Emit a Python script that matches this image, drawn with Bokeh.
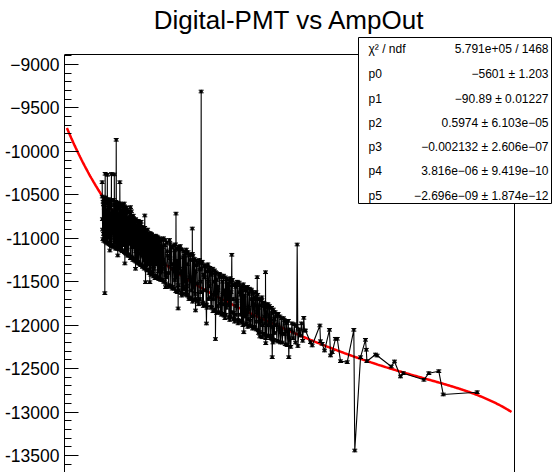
import numpy as np
from bokeh.plotting import figure
from bokeh.models import Range1d, Label, BoxAnnotation, FixedTicker
from bokeh.embed import file_html
from bokeh.resources import INLINE

# ---------------- data ----------------
amp_dense = [
    101.0, 101.5, 102.0, 102.5, 103.0, 103.5, 104.0, 104.5, 105.0, 105.5,
    106.0, 106.5, 107.0, 107.5, 108.0, 108.5, 109.0, 109.5, 110.0, 110.5,
    111.0, 111.5, 112.0, 112.5, 113.0, 113.5, 114.0, 114.5, 115.0, 115.5,
    116.0, 116.5, 117.0, 117.5, 118.0, 118.5, 119.0, 119.5, 120.0, 120.5,
    121.0, 121.5, 122.0, 122.5, 123.0, 123.5, 124.0, 124.5, 125.0, 125.5,
    126.0, 126.5, 127.0, 127.5, 128.0, 128.5, 129.0, 129.5, 130.0, 130.5,
    131.0, 131.5, 132.0, 132.5, 133.0, 133.5, 134.0, 134.5, 135.0, 135.5,
    136.0, 136.5, 137.0, 137.5, 138.0, 138.5, 139.0, 139.5, 140.0, 140.5,
    141.0, 141.5, 142.0, 142.5, 143.0, 143.5, 144.0, 144.5, 145.0, 145.5,
    146.0, 146.5, 147.0, 147.5, 148.0, 148.5, 149.0, 149.5, 150.0, 150.5,
    151, 152, 153, 154, 155, 156, 157, 158, 159, 160,
    161, 162, 163, 164, 165, 166, 167, 168, 169, 170,
    171, 172, 173, 174, 175, 176, 177, 178, 179, 180,
    181, 182, 183, 184, 185, 186, 187, 188, 189, 190,
    191, 192, 193, 194, 195, 196, 197, 198, 199, 200,
    201, 202, 203, 204, 205, 206, 207, 208, 209, 210,
    211, 212, 213, 214, 215, 216, 217, 218, 219, 220,
    221, 222, 223, 224, 225, 226, 227, 228, 229, 230,
    231, 232, 233, 234, 235, 236, 237, 238, 239, 240,
    241, 242, 243, 244, 245, 246, 247, 248, 249, 250,
    251, 252, 253, 254, 255, 256, 257, 258, 259, 260,
    261, 262, 263, 264, 265, 266, 267, 268,
]
pmt_dense = [
    -10520, -11010, -10610, -10950, -10540, -11040, -10700, -10890, -10560, -11060,
    -10650, -10980, -10580, -10830, -11080, -10600, -10920, -10700, -11090, -10560,
    -10860, -11000, -10620, -11110, -10760, -10590, -10940, -11120, -10650, -10880,
    -10600, -11050, -10720, -11140, -10610, -10960, -10700, -11160, -10640, -10900,
    -11180, -10680, -11000, -10760, -11200, -10690, -10950, -11230, -10740, -11100,
    -10800, -11250, -10770, -11020, -11240, -10790, -11150, -10860, -10980, -11290,
    -10800, -11080, -10850, -11300, -10840, -11120, -10900, -11330, -10880, -11060,
    -11350, -10920, -11200, -10930, -11360, -10990, -11250, -10950, -11400, -11000,
    -11180, -11420, -10960, -11300, -11010, -11440, -10990, -11220, -11460, -11000,
    -11300, -10980, -11450, -11050, -11270, -11000, -11470, -11090, -11380, -11020,
    -11480, -11000, -11300, -11520, -11050, -11400, -11020, -11550, -11100, -11350,
    -11580, -11070, -11450, -11120, -11600, -11090, -11380, -11640, -11150, -11500,
    -11130, -11660, -11200, -11450, -11690, -11180, -11560, -11240, -11700, -11300,
    -11720, -11250, -11500, -11290, -11740, -11320, -11600, -11770, -11300, -11550,
    -11380, -11800, -11350, -11650, -11820, -11400, -11560, -11850, -11420, -11700,
    -11870, -11430, -11600, -11880, -11470, -11760, -11500, -11900, -11480, -11700,
    -11920, -11520, -11780, -11940, -11510, -11650, -11960, -11550, -11850, -11600,
    -11980, -11560, -11800, -12000, -11590, -11900, -11640, -12030, -11620, -11850,
    -12060, -11700, -11950, -11680, -12100, -11750, -11980, -12120, -11760, -11900,
    -12150, -11800, -12020, -12170, -11850, -12000, -11880, -12190, -11900, -12080,
    -12200, -11920, -12100, -11960, -12230, -11950, -12050, -12250, -11980, -12150,
    -11990, -12200, -12010, -12240, -12050, -12120, -11980, -12180,
]
amp_dense2 = [
    101.25, 101.75, 102.25, 102.75, 103.25, 103.75, 104.25, 104.75, 105.25, 105.75,
    106.25, 106.75, 107.25, 107.75, 108.25, 108.75, 109.25, 109.75, 110.25, 110.75,
    111.25, 111.75, 112.25, 112.75, 113.25, 113.75, 114.25, 114.75, 115.25, 115.75,
    116.25, 116.75, 117.25, 117.75, 118.25, 118.75, 119.25, 119.75, 120.25, 120.75,
    121.25, 121.75, 122.25, 122.75, 123.25, 123.75, 124.25, 124.75, 125.25, 125.75,
    126.25, 126.75, 127.25, 127.75, 128.25, 128.75, 129.25, 129.75, 130.25, 130.75,
    131.25, 131.75, 132.25, 132.75, 133.25, 133.75, 134.25, 134.75, 135.25, 135.75,
    136.25, 136.75, 137.25, 137.75, 138.25, 138.75, 139.25, 139.75, 140.25, 140.75,
    141.25, 141.75, 142.25, 142.75, 143.25, 143.75, 144.25, 144.75, 145.25, 145.75,
    146.25, 146.75, 147.25, 147.75, 148.25, 148.75, 149.25, 149.75, 150.25, 150.75,
    151.5, 152.5, 153.5, 154.5, 155.5, 156.5, 157.5, 158.5, 159.5, 160.5,
    161.5, 162.5, 163.5, 164.5, 165.5, 166.5, 167.5, 168.5, 169.5, 170.5,
    171.5, 172.5, 173.5, 174.5, 175.5, 176.5, 177.5, 178.5, 179.5, 180.5,
    181.5, 182.5, 183.5, 184.5, 185.5, 186.5, 187.5, 188.5, 189.5, 190.5,
    191.5, 192.5, 193.5, 194.5, 195.5, 196.5, 197.5, 198.5, 199.5, 200.5,
    201.5, 202.5, 203.5, 204.5, 205.5, 206.5, 207.5, 208.5, 209.5, 210.5,
    211.5, 212.5, 213.5, 214.5, 215.5, 216.5, 217.5, 218.5, 219.5, 220.5,
    221.5, 222.5, 223.5, 224.5, 225.5, 226.5, 227.5, 228.5, 229.5, 230.5,
    231.5, 232.5, 233.5, 234.5, 235.5, 236.5, 237.5, 238.5, 239.5, 240.5,
    241.5, 242.5, 243.5, 244.5, 245.5, 246.5, 247.5, 248.5, 249.5, 250.5,
    251.5, 252.5, 253.5, 254.5,
]
pmt_dense2 = [
    -10900, -10580, -11030, -10650, -10980, -10530, -10820, -11050, -10600, -10940,
    -10550, -11070, -10720, -10990, -10560, -11090, -10680, -10850, -11100, -10620,
    -11050, -10700, -10580, -10980, -11120, -10640, -11000, -10600, -11130, -10750,
    -11100, -10630, -10870, -11150, -10650, -11080, -10600, -10990, -11170, -10700,
    -10650, -11150, -10800, -11190, -10700, -11060, -10760, -11210, -10690, -10980,
    -11220, -10740, -11100, -10800, -11260, -10780, -10960, -11250, -10820, -11150,
    -11270, -10830, -11000, -11300, -10810, -11200, -10870, -11320, -10900, -11250,
    -10880, -11340, -10950, -11100, -11370, -10900, -11300, -10970, -11360, -10940,
    -11390, -10950, -11150, -11410, -10980, -11350, -11030, -11430, -10970, -11300,
    -11040, -11450, -10990, -11380, -11460, -11030, -11240, -11480, -11010, -11350,
    -11100, -11500, -11020, -11450, -11200, -11540, -11060, -11300, -11560, -11080,
    -11480, -11120, -11620, -11100, -11350, -11630, -11130, -11560, -11200, -11650,
    -11550, -11160, -11680, -11250, -11600, -11200, -11710, -11380, -11260, -11720,
    -11280, -11700, -11350, -11750, -11420, -11310, -11760, -11380, -11700, -11340,
    -11790, -11400, -11700, -11370, -11830, -11480, -11780, -11410, -11860, -11450,
    -11650, -11890, -11450, -11800, -11520, -11910, -11460, -11850, -11530, -11930,
    -11540, -11880, -11500, -11950, -11620, -11570, -11970, -11530, -11900, -11990,
    -11600, -11930, -11580, -12010, -11700, -11620, -12020, -11700, -11960, -11650,
    -11800, -12080, -11720, -12000, -11780, -12110, -11850, -11760, -12130, -11800,
    -11950, -12160, -11820, -12090, -11900, -12180, -11870, -12050, -12200, -11920,
    -12100, -11940, -12220, -11980,
]
amp_dense3 = [
    101.125, 102.125, 103.125, 104.125, 105.125, 106.125, 107.125, 108.125, 109.125, 110.125,
    111.125, 112.125, 113.125, 114.125, 115.125, 116.125, 117.125, 118.125, 119.125, 120.125,
    121.125, 122.125, 123.125, 124.125, 125.125, 126.125, 127.125, 128.125, 129.125, 130.125,
    131.125, 132.125, 133.125, 134.125, 135.125, 136.125, 137.125, 138.125, 139.125, 140.125,
    141.125, 142.125, 143.125, 144.125, 145.125, 146.125, 147.125, 148.125, 149.125, 150.125,
    151.25, 152.25, 153.25, 154.25, 155.25, 156.25, 157.25, 158.25, 159.25, 160.25,
    161.25, 162.25, 163.25, 164.25, 165.25, 166.25, 167.25, 168.25, 169.25, 170.25,
    171.25, 172.25, 173.25, 174.25, 175.25, 176.25, 177.25, 178.25, 179.25, 180.25,
    181.25, 182.25, 183.25, 184.25, 185.25, 186.25, 187.25, 188.25, 189.25, 190.25,
    191.25, 192.25, 193.25, 194.25, 195.25, 196.25, 197.25, 198.25, 199.25, 200.25,
    201.25, 202.25, 203.25, 204.25, 205.25, 206.25, 207.25, 208.25, 209.25, 210.25,
    211.25, 212.25, 213.25, 214.25, 215.25, 216.25, 217.25, 218.25, 219.25, 220.25,
    221.25, 222.25, 223.25, 224.25, 225.25, 226.25, 227.25, 228.25, 229.25, 230.25,
    231.25, 232.25, 233.25, 234.25, 235.25, 236.25, 237.25, 238.25, 239.25, 240.25,
    241.25, 242.25, 243.25, 244.25,
]
pmt_dense3 = [
    -10780, -10950, -10620, -11020, -10680, -10900, -11060, -10640, -10850, -11080,
    -10700, -11120, -10660, -10940, -11100, -10720, -11140, -10680, -10880, -11160,
    -10720, -11200, -10800, -10960, -11230, -10760, -11100, -10830, -11270, -10900,
    -11180, -10850, -11310, -10960, -11200, -10880, -11340, -11000, -11250, -10950,
    -11400, -11020, -11280, -10990, -11430, -11060, -11200, -11470, -11040, -11330,
    -11250, -11500, -11080, -11420, -11150, -11560, -11230, -11100, -11580, -11300,
    -11140, -11610, -11260, -11540, -11130, -11400, -11660, -11220, -11590, -11170,
    -11620, -11300, -11700, -11190, -11480, -11730, -11250, -11640, -11310, -11520,
    -11760, -11360, -11620, -11270, -11780, -11450, -11330, -11800, -11500, -11360,
    -11680, -11420, -11840, -11500, -11390, -11860, -11600, -11440, -11750, -11880,
    -11500, -11760, -11920, -11470, -11700, -11540, -11940, -11620, -11480, -11860,
    -11960, -11560, -11720, -11980, -11540, -11880, -11600, -12000, -11660, -11570,
    -11880, -12020, -11640, -11950, -11600, -12040, -11760, -11680, -12050, -11700,
    -12090, -11770, -11960, -12140, -11740, -11900, -12150, -11800, -12000, -11780,
    -12120, -11860, -12200, -11930,
]
amp_outlier = [100.9, 103.1, 103.4, 105.2, 107.3, 108.6, 111.0, 112.6, 113.9, 115.6,
               119.8, 124.5, 128.7, 136.4, 137.0, 140.6, 153.7, 162.4, 164.2, 176.0,
               178.7, 183.4, 187.8, 195.3, 208.9, 218.9, 230.1, 232.3, 237.0, 237.2,
               242.6, 256.4, 263.4]
pmt_outlier = [-10355, -11632, -10258, -10270, -11141, -10260, -10265, -9867, -11198, -10355,
               -11290, -10642, -11351, -10738, -11506, -11506, -11563, -10716, -11808, -10888,
               -11831, -9311, -11981, -12160, -11190, -12082, -11448, -12131, -11391, -12208,
               -12369, -12369, -11072]
amp_tail = [268.9, 269.5, 270.3, 274.5, 275.9, 282.3, 282.8, 284.2, 286.2, 290.3,
            291.2, 292.6, 295.3, 296.8, 299.5, 305.1, 310.6, 311.4, 316.2, 320.3,
            321.0, 321.5, 328.7, 330.0, 341.8, 344.5, 349.5, 351.8, 369.0, 373.1,
            381.4, 385.1, 413.4]
pmt_tail = [-11916, -12062, -12062, -12196, -12234, -12004, -12185, -12215, -12292, -12054,
            -12349, -12311, -12157, -12157, -12415, -12426, -12054, -13443, -12369, -12169,
            -12283, -12415, -12338, -12350, -12476, -12418, -12591, -12553, -12629, -12553,
            -12530, -12798, -12772]
pmt_err = 15.0

fit_params = [-5601, -90.89, 0.5974, -0.002132, 3.816e-06, -2.696e-09]
fit_range = [71.5, 442.0]

stat_names = ["\u03c7\u00b2 / ndf", "p0", "p1", "p2", "p3", "p4", "p5"]
stat_values = ["5.791e+05 / 1468",
               "\u22125601 \u00b1 1.203",
               "\u221290.89 \u00b1 0.01227",
               "0.5974 \u00b1 6.103e\u221205",
               "\u22120.002132 \u00b1 2.606e\u221207",
               "3.816e\u221206 \u00b1 9.419e\u221210",
               "\u22122.696e\u221209 \u00b1 1.874e\u221212"]

y_ticks = [-13500, -13000, -12500, -12000, -11500, -11000, -10500, -10000, -9500, -9000]
y_tick_labels = ["-13500", "-13000", "-12500", "-12000", "-11500", "-11000", "-10500",
                 "-10000", "\u22129500", "\u22129000"]

# axis frame (ROOT pad frame) limits in data units
x_lo, x_hi = 69.5, 444.5
y_lo, y_hi = -13696.0, -8885.0

# ---------------- figure ----------------
FONT = "Liberation Sans"
W, H, LEFT = 558, 472, 64
px_per_x = (514 - LEFT) / (x_hi - x_lo)          # frame pixels per x unit
px_per_y = (472 - 54) / (y_hi - y_lo)            # frame pixels per y unit
view_x = Range1d(x_lo, x_lo + (W - LEFT) / px_per_x)
view_y = Range1d(y_lo, y_lo + H / px_per_y)

p = figure(width=W, height=H, output_backend="svg", toolbar_location=None,
           x_range=view_x, y_range=view_y, x_axis_location=None,
           min_border_left=LEFT, min_border_right=0,
           min_border_top=0, min_border_bottom=0)
p.background_fill_color = "white"
p.border_fill_color = "white"
p.outline_line_color = None
p.xgrid.visible = False
p.ygrid.visible = False

ax = p.yaxis[0]
ax.bounds = (y_lo, y_hi)
ax.ticker = FixedTicker(ticks=y_ticks, minor_ticks=list(range(-13600, -8850, 100)))
ax.major_label_overrides = {t: l for t, l in zip(y_ticks, y_tick_labels)}
ax.major_tick_in = 14
ax.major_tick_out = 0
ax.minor_tick_in = 7
ax.minor_tick_out = 0
ax.axis_line_color = "black"
ax.major_tick_line_color = "black"
ax.minor_tick_line_color = "black"
ax.major_label_text_font = FONT
ax.major_label_text_font_size = "17.5px"
ax.major_label_text_color = "black"
ax.major_label_standoff = 5

# frame top and right border
p.segment([x_lo, x_hi], [y_hi, y_lo], [x_hi, x_hi], [y_hi, y_hi],
          line_color="black", line_width=1)

# fit function (pol5 with the fitted parameters)
fx = np.linspace(fit_range[0], fit_range[1], 400)
fy = sum(c * fx ** i for i, c in enumerate(fit_params))
p.line(fx, fy, line_color="#ff0000", line_width=2.5)

# data graph
xs = np.array(amp_dense + amp_dense2 + amp_dense3 + amp_outlier + amp_tail, dtype=float)
ys = np.array(pmt_dense + pmt_dense2 + pmt_dense3 + pmt_outlier + pmt_tail, dtype=float)
order = np.argsort(xs, kind="stable")
xs, ys = xs[order], ys[order]

p.line(xs, ys, line_color="black", line_width=1.1)
p.segment(xs, ys - pmt_err, xs, ys + pmt_err, line_color="black", line_width=1)
p.scatter(xs, ys - pmt_err, marker="dash", size=5, line_color="black", line_width=1)
p.scatter(xs, ys + pmt_err, marker="dash", size=5, line_color="black", line_width=1)
p.scatter(xs, ys, marker="circle", size=2.5, fill_color="black", line_color="black")

# title
p.add_layout(Label(x=289 - LEFT, y=H - 19, x_units="screen", y_units="screen",
                   text="Digital-PMT vs AmpOut", text_align="center",
                   text_baseline="alphabetic", text_font=FONT,
                   text_font_size="26px", text_color="black"))

# stats box
p.add_layout(BoxAnnotation(left=358 - LEFT, right=551 - LEFT, bottom=H - 203, top=H - 37,
                           left_units="screen", right_units="screen",
                           bottom_units="screen", top_units="screen",
                           fill_color="white", fill_alpha=1.0,
                           line_color="black", line_width=1, line_alpha=1.0))
row_y = [48, 73, 98, 122, 146, 170, 195]
for name, val, yy in zip(stat_names, stat_values, row_y):
    p.add_layout(Label(x=368 - LEFT, y=H - yy, x_units="screen", y_units="screen", text=name,
                       text_align="left", text_baseline="middle", text_font=FONT,
                       text_font_size="12px", text_color="black"))
    p.add_layout(Label(x=548 - LEFT, y=H - yy, x_units="screen", y_units="screen", text=val,
                       text_align="right", text_baseline="middle", text_font=FONT,
                       text_font_size="12px", text_color="black"))

open("out.html", "w").write(file_html(p, INLINE))
